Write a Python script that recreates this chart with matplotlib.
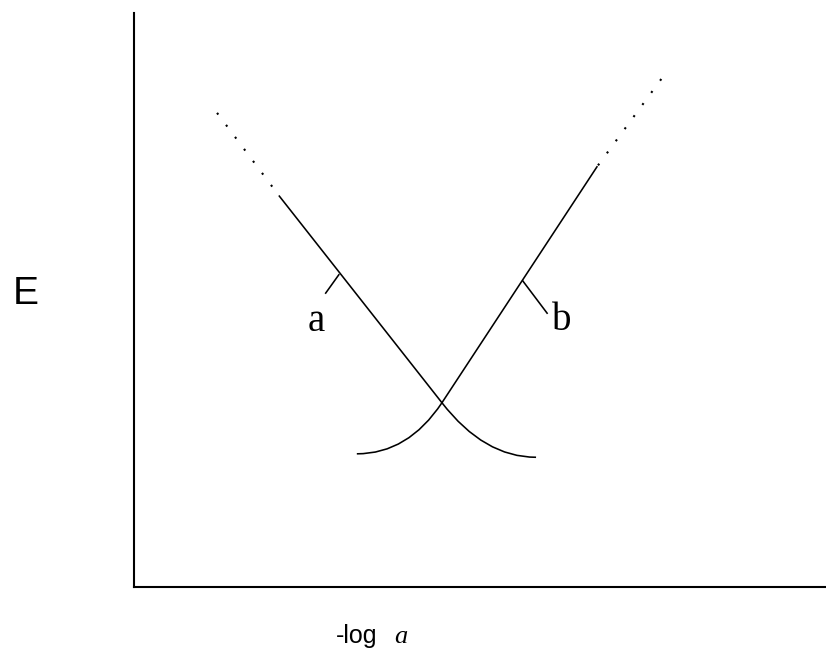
import matplotlib
matplotlib.use("Agg")
import matplotlib.pyplot as plt
from matplotlib.path import Path
from matplotlib.patches import PathPatch

# Rama a: tramo punteado, tramo recto y curva final (puntos de control)
a_punteado_x = [1.20, 2.10]
a_punteado_y = [8.26, 6.81]
a_recta_x = [2.10, 4.45]
a_recta_y = [6.81, 3.21]
a_curva_x = [4.45, 5.06, 5.81]
a_curva_y = [3.21, 2.26, 2.26]

# Rama b: curva inicial, tramo recto y tramo punteado
b_curva_x = [3.22, 3.96, 4.45]
b_curva_y = [2.32, 2.32, 3.21]
b_recta_x = [4.45, 6.69]
b_recta_y = [3.21, 7.32]
b_punteado_x = [7.62, 6.69]
b_punteado_y = [8.85, 7.32]

# Marcas de identificacion de cada rama
marca_a_x = [2.96, 2.77]
marca_a_y = [5.44, 5.12]
marca_b_x = [5.62, 5.97]
marca_b_y = [5.33, 4.77]
etiquetas = ['a', 'b']
etiquetas_x = [2.64, 6.18]
etiquetas_y = [4.63, 4.65]

fig = plt.figure(figsize=(8.26, 6.62), dpi=100)
ax = fig.add_axes([134 / 826, 75 / 662, 692 / 826, 574 / 662])
ax.set_xlim(0, 10)
ax.set_ylim(0, 10)

lw = 1.15
punteado = (0, (1, 6.2))

ax.plot(a_punteado_x, a_punteado_y, color='black', lw=1.5, linestyle=punteado)
ax.plot(a_recta_x, a_recta_y, color='black', lw=lw)
ax.plot(b_recta_x, b_recta_y, color='black', lw=lw)
ax.plot(b_punteado_x, b_punteado_y, color='black', lw=1.5, linestyle=punteado)

# curvas cuadraticas cerca del punto de equivalencia
for cx, cy in [(a_curva_x, a_curva_y), (b_curva_x, b_curva_y)]:
    camino = Path(list(zip(cx, cy)), [Path.MOVETO, Path.CURVE3, Path.CURVE3])
    ax.add_patch(PathPatch(camino, facecolor='none', edgecolor='black', lw=lw))

ax.plot(marca_a_x, marca_a_y, color='black', lw=lw)
ax.plot(marca_b_x, marca_b_y, color='black', lw=lw)
for txt, x, y in zip(etiquetas, etiquetas_x, etiquetas_y):
    ax.text(x, y, txt, fontsize=28, family='Liberation Serif',
            ha='center', va='center')

for lado in ['top', 'right']:
    ax.spines[lado].set_visible(False)
for lado in ['left', 'bottom']:
    ax.spines[lado].set_linewidth(1.5)
    ax.spines[lado].set_color('black')
ax.set_xticks([])
ax.set_yticks([])

# rotulos de los ejes
fig.text(26 / 826, 1 - 294 / 662, 'E', fontsize=28, family='Liberation Sans',
         ha='center', va='center')
fig.text(336 / 826, 1 - 643 / 662, '-log', fontsize=18, family='Liberation Sans',
         ha='left', va='baseline')
fig.text(394 / 826, 1 - 643 / 662, 'a', fontsize=19, family='Liberation Serif',
         style='italic', ha='left', va='baseline')

fig.savefig('out.png', dpi=100)
